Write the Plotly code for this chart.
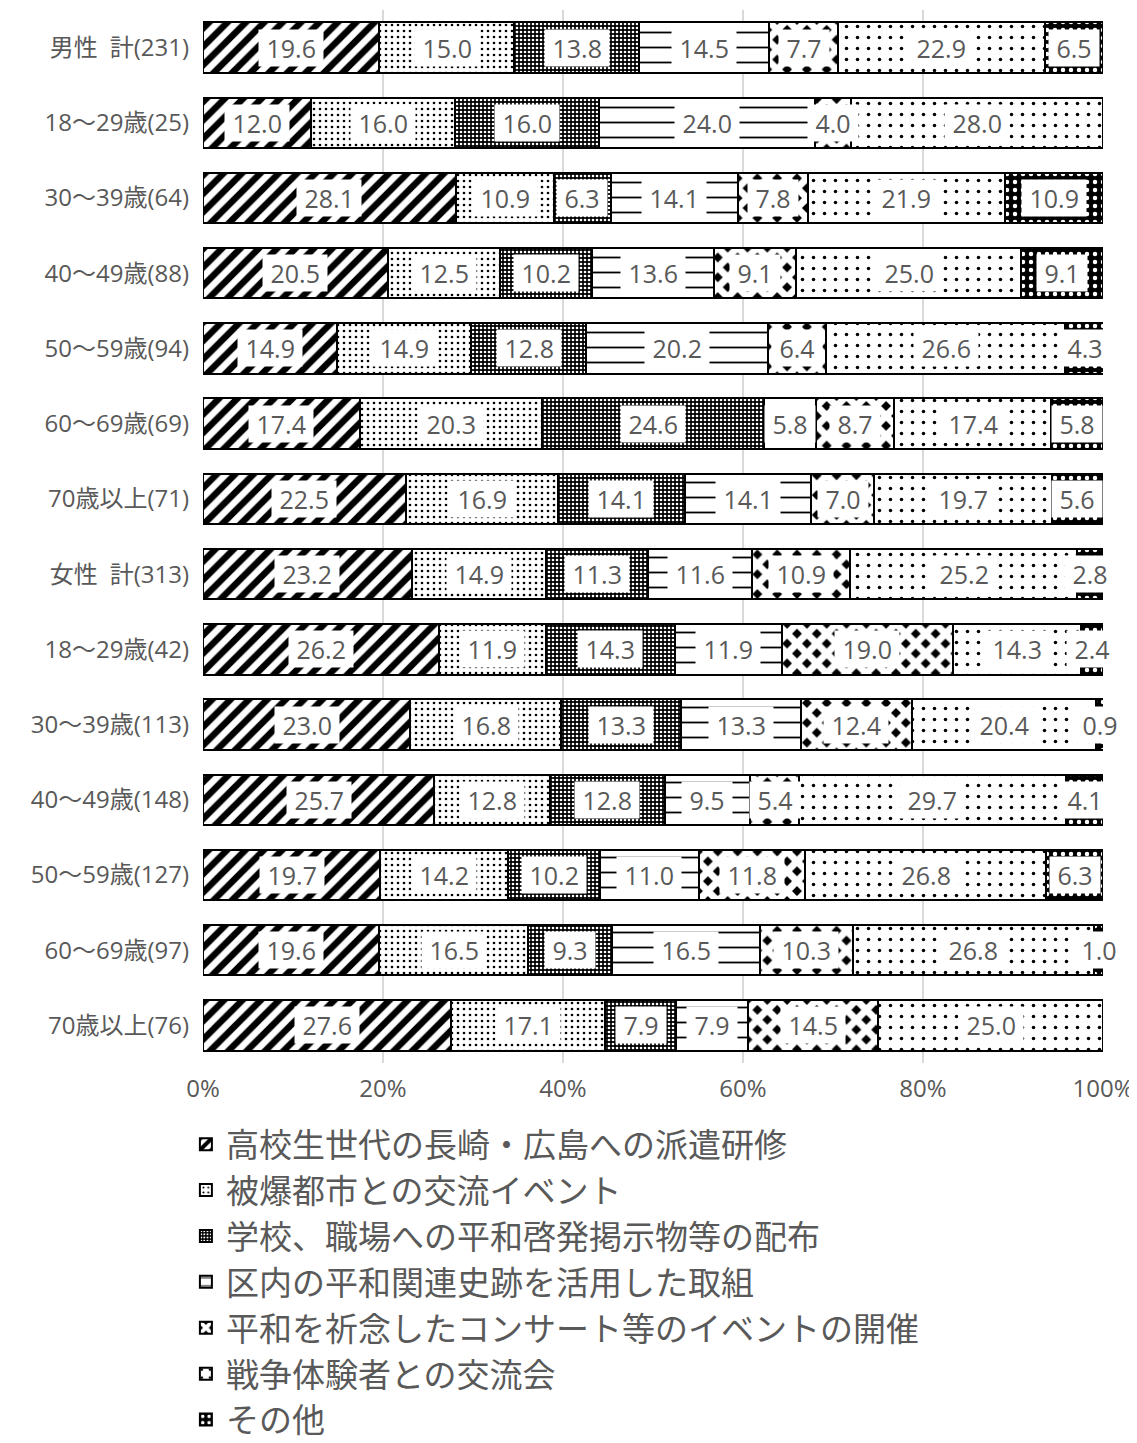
import plotly.graph_objects as go

categories = ["男性\u2002計(231)", "18～29歳(25)", "30～39歳(64)", "40～49歳(88)", "50～59歳(94)",
              "60～69歳(69)", "70歳以上(71)", "女性\u2002計(313)", "18～29歳(42)", "30～39歳(113)",
              "40～49歳(148)", "50～59歳(127)", "60～69歳(97)", "70歳以上(76)"]
series_names = ["高校生世代の長崎・広島への派遣研修", "被爆都市との交流イベント",
                "学校、職場への平和啓発掲示物等の配布", "区内の平和関連史跡を活用した取組",
                "平和を祈念したコンサート等のイベントの開催", "戦争体験者との交流会", "その他"]
s1 = [19.6, 12.0, 28.1, 20.5, 14.9, 17.4, 22.5, 23.2, 26.2, 23.0, 25.7, 19.7, 19.6, 27.6]
s2 = [15.0, 16.0, 10.9, 12.5, 14.9, 20.3, 16.9, 14.9, 11.9, 16.8, 12.8, 14.2, 16.5, 17.1]
s3 = [13.8, 16.0, 6.3, 10.2, 12.8, 24.6, 14.1, 11.3, 14.3, 13.3, 12.8, 10.2, 9.3, 7.9]
s4 = [14.5, 24.0, 14.1, 13.6, 20.2, 5.8, 14.1, 11.6, 11.9, 13.3, 9.5, 11.0, 16.5, 7.9]
s5 = [7.7, 4.0, 7.8, 9.1, 6.4, 8.7, 7.0, 10.9, 19.0, 12.4, 5.4, 11.8, 10.3, 14.5]
s6 = [22.9, 28.0, 21.9, 25.0, 26.6, 17.4, 19.7, 25.2, 14.3, 20.4, 29.7, 26.8, 26.8, 25.0]
s7 = [6.5, 0.0, 10.9, 9.1, 4.3, 5.8, 5.6, 2.8, 2.4, 0.9, 4.1, 6.3, 1.0, 0.0]
xticks = [0, 20, 40, 60, 80, 100]
xticklabels = ["0%", "20%", "40%", "60%", "80%", "100%"]

all_series = [s1, s2, s3, s4, s5, s6, s7]
patterns = [
    dict(shape="/", fgcolor="black", bgcolor="white", size=13, solidity=0.5, fgopacity=1),
    dict(shape=".", fgcolor="black", bgcolor="white", size=6, solidity=0.15, fgopacity=1),
    dict(shape=".", fgcolor="white", bgcolor="black", size=4, solidity=0.35, fgopacity=1),
    dict(shape="-", fgcolor="black", bgcolor="white", size=15, solidity=0.12, fgopacity=1),
    dict(shape="x", fgcolor="white", bgcolor="black", size=14, solidity=0.75, fgopacity=1),
    dict(shape=".", fgcolor="black", bgcolor="white", size=11, solidity=0.08, fgopacity=1),
    dict(shape=".", fgcolor="white", bgcolor="black", size=8, solidity=0.25, fgopacity=1),
]

fig = go.Figure()
for name, vals, pat in zip(series_names, all_series, patterns):
    fig.add_trace(go.Bar(
        y=categories, x=vals, name=name, orientation="h",
        marker=dict(color="white", pattern=pat, line=dict(color="black", width=2)),
        hoverinfo="x+name",
    ))

annotations = []
for i, cat in enumerate(categories):
    cum = 0.0
    for vals in all_series:
        v = vals[i]
        if v > 0:
            annotations.append(dict(
                x=cum + v / 2, y=cat, xref="x", yref="y",
                text="\u00a0" + f"{v:.1f}" + "\u00a0",
                showarrow=False, bgcolor="white", borderpad=1,
                font=dict(family="Open Sans, Noto Sans CJK JP", size=25, color="#595959"),
            ))
        cum += v

fig.update_layout(
    barmode="stack",
    width=1129, height=1435,
    margin=dict(l=195, r=34, t=2, b=380, autoexpand=False),
    paper_bgcolor="white", plot_bgcolor="white",
    bargap=0.33,
    font=dict(family="Noto Sans CJK JP", color="#595959"),
    xaxis=dict(range=[0, 100], tickvals=xticks, ticktext=xticklabels,
               showgrid=True, gridcolor="#d9d9d9", gridwidth=2, zeroline=False,
               tickfont=dict(family="Open Sans, Noto Sans CJK JP", size=24, color="#595959"),
               ticks="", ticklabelstandoff=9),
    yaxis=dict(autorange="reversed",
               tickfont=dict(family="Open Sans, Noto Sans CJK JP", size=24, color="#595959"),
               ticks="", showgrid=False, ticklabelstandoff=13),
    annotations=annotations,
    legend=dict(orientation="v", x=-0.019, xanchor="left", y=-0.0505, yanchor="top",
                font=dict(size=33, color="#595959"), tracegroupgap=0,
                itemwidth=30, traceorder="normal"),
    showlegend=True,
)
fig.write_html("out.html")
